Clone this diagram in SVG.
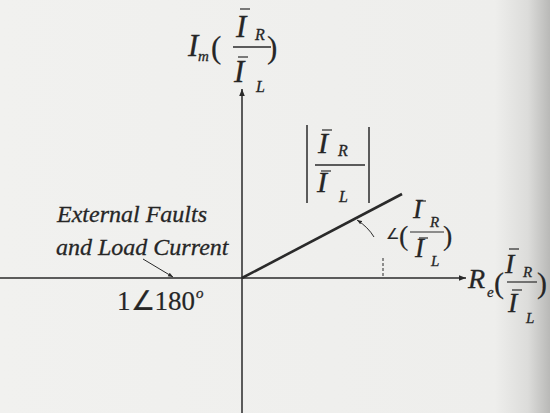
<svg xmlns="http://www.w3.org/2000/svg" width="550" height="413" viewBox="0 0 550 413">
<defs>
<linearGradient id="bg" x1="0" y1="0" x2="1" y2="0">
<stop offset="0" stop-color="#f1f1ef"/>
<stop offset="0.9" stop-color="#eeeeec"/>
<stop offset="0.96" stop-color="#dcdcda"/>
<stop offset="1" stop-color="#b9b9b7"/>
</linearGradient>
<marker id="ah" viewBox="0 0 10 10" refX="10" refY="5" markerWidth="7" markerHeight="7" markerUnits="userSpaceOnUse" orient="auto">
<path d="M0,1 L10,5 L0,9 Z" fill="#2a2a2a"/>
</marker>
<marker id="ahs" viewBox="0 0 10 10" refX="10" refY="5" markerWidth="5" markerHeight="5" markerUnits="userSpaceOnUse" orient="auto">
<path d="M0,1 L10,5 L0,9 Z" fill="#2a2a2a"/>
</marker>
</defs>
<style>
.m{font-family:"Liberation Serif","Times New Roman",serif;font-style:italic;fill:#262626;stroke:#262626;stroke-width:0.3}
.r{font-family:"Liberation Serif","Times New Roman",serif;fill:#262626;stroke:#262626;stroke-width:0.2}
.ln{stroke:#2a2a2a;fill:none}
.bar{stroke:#2a2a2a;stroke-width:1.2;fill:none}
</style>
<rect x="0" y="0" width="550" height="413" fill="url(#bg)"/>
<g id="connectors">
<line class="ln" x1="242" y1="413" x2="242" y2="89" stroke-width="1.5" marker-end="url(#ah)"/>
<line class="ln" x1="0" y1="278" x2="466" y2="278" stroke-width="1.5" marker-end="url(#ah)"/>
<line class="ln" x1="242" y1="278" x2="402" y2="194" stroke-width="2.6"/>
<line class="ln" x1="383" y1="258" x2="383" y2="278" stroke-width="1" stroke-dasharray="3,2"/>
<path class="ln" d="M374,237 Q368,227 357,220" stroke-width="1" marker-end="url(#ahs)"/>
<line class="ln" x1="143" y1="259" x2="173" y2="277" stroke-width="1" marker-end="url(#ahs)"/>
</g>
<g id="y-label">
<text class="m" x="188" y="56" font-size="31">I</text>
<text class="m" x="198" y="61" font-size="15">m</text>
<text class="r" x="211" y="58" font-size="31">(</text>
<text class="m" x="236" y="37" font-size="31">I</text>
<text class="m" x="255" y="40" font-size="16">R</text>
<line class="bar" x1="240" y1="9" x2="250" y2="9"/>
<line class="ln" x1="233" y1="47" x2="271" y2="47" stroke-width="1.3"/>
<text class="m" x="234" y="82" font-size="31">I</text>
<text class="m" x="256" y="92" font-size="16">L</text>
<line class="bar" x1="238" y1="57" x2="248" y2="57"/>
<text class="r" x="267" y="58" font-size="31">)</text>
</g>
<g id="magnitude">
<line class="ln" x1="307" y1="125" x2="307" y2="203" stroke-width="1.5"/>
<line class="ln" x1="369" y1="127" x2="369" y2="203" stroke-width="1.5"/>
<text class="m" x="318" y="153" font-size="30">I</text>
<text class="m" x="338" y="156" font-size="16">R</text>
<line class="bar" x1="322" y1="130" x2="332" y2="130"/>
<line class="ln" x1="315" y1="165" x2="365" y2="165" stroke-width="1.3"/>
<text class="m" x="317" y="192" font-size="30">I</text>
<text class="m" x="339" y="202" font-size="16">L</text>
<line class="bar" x1="321" y1="171" x2="331" y2="171"/>
</g>
<g id="angle-label">
<text class="r" x="386" y="239" font-size="15">∠</text>
<text class="r" x="399" y="245" font-size="28">(</text>
<text class="m" x="413" y="218" font-size="27">I</text>
<text class="m" x="430" y="227" font-size="15">R</text>
<line class="bar" x1="417" y1="201" x2="426" y2="201"/>
<line class="ln" x1="410" y1="232" x2="444" y2="232" stroke-width="1.2"/>
<text class="m" x="415" y="257" font-size="27">I</text>
<text class="m" x="431" y="266" font-size="15">L</text>
<line class="bar" x1="419" y1="238" x2="428" y2="238"/>
<text class="r" x="443" y="245" font-size="28">)</text>
</g>
<g id="x-label">
<text class="m" x="468" y="288" font-size="28">R</text>
<text class="m" x="487" y="297" font-size="15">e</text>
<text class="r" x="494" y="293" font-size="30">(</text>
<text class="m" x="505" y="273" font-size="28">I</text>
<text class="m" x="523" y="277" font-size="15">R</text>
<line class="bar" x1="509" y1="249" x2="519" y2="249"/>
<line class="ln" x1="507" y1="282" x2="537" y2="282" stroke-width="1.2"/>
<text class="m" x="508" y="312" font-size="28">I</text>
<text class="m" x="526" y="323" font-size="15">L</text>
<line class="bar" x1="512" y1="290" x2="522" y2="290"/>
<text class="r" x="537" y="293" font-size="30">)</text>
</g>
<g id="fault-label">
<text class="m" x="57" y="222" font-size="24">External Faults</text>
<text class="m" x="56" y="255" font-size="24">and Load Current</text>
</g>
<g id="point-label">
<text class="r" x="117" y="310" font-size="27">1∠180</text>
<text class="m" x="196" y="298" font-size="15">o</text>
</g>
</svg>
